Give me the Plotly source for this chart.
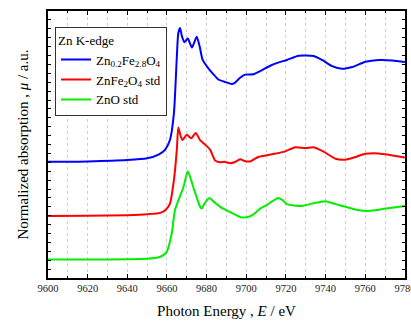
import plotly.graph_objects as go

# Zn0.2Fe2.8O4
blue_E = [9600, 9620, 9640, 9650, 9656, 9659, 9661.5, 9663.5, 9664.9, 9665.7, 9666.6, 9667.5,
          9668.8, 9670.5, 9672.6, 9675.0, 9676.5, 9678, 9680.9, 9683, 9685.9, 9689, 9692.7,
          9694, 9696.9, 9699.4, 9703.6, 9707, 9712.1, 9716, 9720.5, 9726.4, 9734, 9738.2,
          9743.3, 9748.3, 9753.4, 9760.1, 9766.8, 9773.6, 9780]
blue_mu = [13.05, 13.1, 13.25, 13.45, 13.9, 14.4, 15.5, 18.5, 24.5, 27.5, 28.1, 27.2,
           26.5, 26.9, 25.9, 27.1, 26.0, 24.5, 23.55, 23.0, 22.3, 22.05, 21.8,
           21.9, 22.5, 22.85, 22.9, 23.25, 23.85, 24.2, 24.5, 24.97, 24.94, 24.5,
           23.8, 23.5, 23.7, 24.3, 24.5, 24.45, 24.26]

# ZnFe2O4 std
red_E = [9600, 9620, 9640, 9650, 9657, 9659.5, 9661.5, 9663.5, 9665, 9665.7, 9666.6, 9667.8,
         9670, 9672.2, 9674.5, 9676.7, 9679.2, 9681.8, 9684.3, 9686.8, 9689, 9691.9, 9694,
         9696.9, 9699, 9702, 9706, 9713, 9719.4, 9724.7, 9729.7, 9734, 9739, 9745, 9750,
         9755, 9760, 9766.8, 9773, 9780]
red_mu = [6.97, 7.0, 7.05, 7.15, 7.35, 7.7, 8.37, 11.0, 14.5, 16.9, 16.2, 15.5,
          16.1, 15.7, 16.3, 15.5, 15.0, 14.4, 13.2, 13.0, 13.05, 12.9, 13.0,
          13.35, 13.15, 13.1, 13.6, 13.9, 14.2, 14.7, 14.6, 14.7, 14.2, 13.4, 13.3,
          13.6, 13.95, 14.0, 13.8, 13.55]

# ZnO std
green_E = [9600, 9620, 9640, 9650, 9656.4, 9659.8, 9662.4, 9664, 9665.7, 9668.3, 9670.5,
           9673.3, 9676.7, 9677.5, 9679, 9681.4, 9684, 9686.8, 9691.9, 9697.8, 9702, 9704.5,
           9707, 9710.4, 9713, 9716, 9718, 9720.5, 9728.1, 9734, 9739.9, 9745, 9750, 9755,
           9760.1, 9765, 9770.2, 9780]
green_mu = [2.07, 2.08, 2.1, 2.15, 2.36, 2.9, 5.0, 7.6, 8.7, 10.2, 12.0,
            10.2, 8.0, 7.8, 8.4, 9.0, 8.5, 8.0, 7.4, 6.8, 6.94, 7.3,
            7.8, 8.2, 8.6, 9.0, 8.8, 8.3, 8.1, 8.4, 8.63, 8.3, 8.0, 7.7,
            7.54, 7.6, 7.8, 8.1]

x_ticks = [9600, 9620, 9640, 9660, 9680, 9700, 9720, 9740, 9760, 9780]

FONT = "'Liberation Serif', 'DejaVu Serif', serif"

fig = go.Figure()
for name, xs, ys, col in [
    ("Zn<sub>0.2</sub>Fe<sub>2.8</sub>O<sub>4</sub>", blue_E, blue_mu, "#0000ff"),
    ("ZnFe<sub>2</sub>O<sub>4</sub> std", red_E, red_mu, "#ff0000"),
    ("ZnO std", green_E, green_mu, "#00ee00"),
]:
    fig.add_trace(go.Scatter(x=xs, y=ys, mode="lines", name=name,
                             line=dict(color=col, width=2, shape="spline", smoothing=0.6)))

# legend drop shadow (legend box drawn on top of it)
fig.add_shape(type="rect", xref="paper", yref="paper",
              x0=(57.5 - 48) / 357, x1=(165 - 48) / 357,
              y0=(278 - 116) / 267, y1=(278 - 29) / 267,
              fillcolor="#777777", line=dict(width=0), layer="above")

fig.update_layout(
    width=411, height=322,
    margin=dict(l=48, r=6, t=11, b=44, autoexpand=False),
    paper_bgcolor="white", plot_bgcolor="white",
    font=dict(family=FONT, color="black", size=11),
    showlegend=True,
    legend=dict(
        x=0.0196, y=0.941, xanchor="left", yanchor="top",
        bgcolor="white", bordercolor="#333333", borderwidth=1,
        font=dict(family=FONT, size=13, color="black"),
        title=dict(text="Zn K-edge", font=dict(family=FONT, size=13, color="black")),
        tracegroupgap=0, itemwidth=30,
    ),
    xaxis=dict(
        range=[9600, 9780.05], tickvals=x_ticks, ticktext=[str(v) for v in x_ticks],
        ticklabeloverflow="allow", automargin=False,
        ticks="inside", ticklen=4, tickwidth=1, tickcolor="black",
        minor=dict(dtick=10, tick0=9600, ticks="inside", ticklen=2, tickcolor="black",
                   showgrid=True, gridcolor="#d0d0d0", griddash="dot", gridwidth=1),
        showgrid=True, gridcolor="#d0d0d0", griddash="dot", gridwidth=1,
        showline=True, linecolor="black", linewidth=1.5, mirror="ticks",
        zeroline=False,
        tickfont=dict(family=FONT, size=10.5, color="#222"),
        title=dict(text="Photon Energy , <i>E</i> / eV", font=dict(family=FONT, size=15), standoff=12),
    ),
    yaxis=dict(
        range=[0, 30], dtick=1, tick0=0, showticklabels=False, automargin=False,
        ticks="inside", ticklen=3, tickwidth=1, tickcolor="black",
        showgrid=False, zeroline=False,
        showline=True, linecolor="black", linewidth=1.5, mirror="ticks",
        title=dict(text="Normalized absorption , <i>μ</i> / a.u.", font=dict(family=FONT, size=15), standoff=14),
    ),
)

fig.write_html("out.html", config={"displayModeBar": False},
               post_script="document.body.style.margin='0';document.body.style.overflow='hidden';")
